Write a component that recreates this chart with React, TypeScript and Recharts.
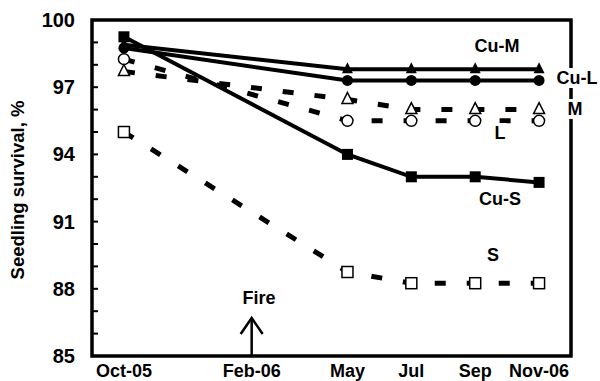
import React from 'react';
import { LineChart, Line, XAxis, YAxis, ReferenceArea, ReferenceDot } from 'recharts';

// months since Oct-05
const months = [0, 7, 9, 11, 13];
const cuM = [98.9, 97.8, 97.8, 97.8, 97.8];
const cuL = [98.75, 97.3, 97.3, 97.3, 97.3];
const cuS = [99.25, 94.0, 93.0, 93.0, 92.75];
const mVals = [97.7, 96.45, 96.0, 96.0, 96.0];
const lVals = [98.25, 95.5, 95.5, 95.5, 95.5];
const sVals = [95.0, 88.75, 88.25, 88.25, 88.25];

const xTicks = [0, 4, 7, 9, 11, 13];
const xLabels = ['Oct-05', 'Feb-06', 'May', 'Jul', 'Sep', 'Nov-06'];
const yTicks = [85, 86, 87, 88, 89, 90, 91, 92, 93, 94, 95, 96, 97, 98, 99, 100];
const yMajor = [85, 88, 91, 94, 97, 100];

// fire happened Feb-06
const fireMonth = 4;

const data = months.map((m, i) => ({
  m,
  cuM: cuM[i],
  cuL: cuL[i],
  cuS: cuS[i],
  M: mVals[i],
  L: lVals[i],
  S: sVals[i],
}));

const FONT = '"Liberation Sans", Arial, sans-serif';

const FilledSquare = (p: any) => (
  <rect key={p.index} x={p.cx - 5.5} y={p.cy - 5.5} width={11} height={11} fill="#000" />
);
const OpenSquare = (p: any) => (
  <rect key={p.index} x={p.cx - 5.5} y={p.cy - 5.5} width={11} height={11} fill="#fff" stroke="#000" strokeWidth={1.5} />
);
const FilledCircle = (p: any) => <circle key={p.index} cx={p.cx} cy={p.cy} r={5.5} fill="#000" />;
const OpenCircle = (p: any) => (
  <circle key={p.index} cx={p.cx} cy={p.cy} r={5.5} fill="#fff" stroke="#000" strokeWidth={1.5} />
);
const FilledTri = (p: any) => (
  <path key={p.index} d={`M${p.cx},${p.cy - 7} L${p.cx + 5.5},${p.cy + 4} L${p.cx - 5.5},${p.cy + 4} Z`} fill="#000" />
);
const OpenTri = (p: any) => (
  <path
    key={p.index}
    d={`M${p.cx},${p.cy - 7} L${p.cx + 5.5},${p.cy + 4} L${p.cx - 5.5},${p.cy + 4} Z`}
    fill="#fff"
    stroke="#000"
    strokeWidth={1.5}
  />
);

// arrow pointing up from the x axis
const FireArrow = (p: any) => {
  const { cx, cy } = p;
  return (
    <g stroke="#000" strokeWidth={2.5} fill="none">
      <line x1={cx} y1={cy} x2={cx} y2={cy - 38} />
      <polyline points={`${cx - 11},${cy - 22} ${cx},${cy - 38} ${cx + 11},${cy - 22}`} />
    </g>
  );
};

const YTick = (props: any) => {
  const { x, y, payload } = props;
  const major = yMajor.includes(payload.value);
  return (
    <g>
      <line x1={x} y1={y} x2={x + 6} y2={y} stroke="#000" strokeWidth={2} />
      {major && (
        <text x={x - 17} y={y + 7} textAnchor="end" fontFamily={FONT} fontWeight="bold" fontSize={20} fill="#000">
          {payload.value}
        </text>
      )}
    </g>
  );
};

const XTick = (props: any) => {
  const { x, y, payload } = props;
  const idx = xTicks.indexOf(payload.value);
  return (
    <text x={x} y={y + 21} textAnchor="middle" fontFamily={FONT} fontWeight="bold" fontSize={18} fill="#000">
      {xLabels[idx]}
    </text>
  );
};

const tag = (text: string, cx: number, cy: number) => (
  <div
    key={text}
    style={{
      position: 'absolute',
      left: cx,
      top: cy,
      transform: 'translate(-50%, -50%)',
      fontFamily: FONT,
      fontWeight: 'bold',
      fontSize: 18,
      lineHeight: '18px',
      background: '#fff',
      padding: '1px 1px',
      whiteSpace: 'nowrap',
    }}
  >
    {text}
  </div>
);

export default function App() {
  return (
    <div style={{ position: 'absolute', left: 0, top: 0, width: 600, height: 381, background: '#fff' }}>
      <LineChart width={600} height={381} data={data} margin={{ top: 20, right: 29, bottom: 0, left: 0 }}>
        <XAxis
          dataKey="m"
          type="number"
          domain={[-1, 14]}
          ticks={xTicks}
          tick={<XTick />}
          tickLine={false}
          axisLine={false}
          tickSize={0}
          tickMargin={0}
          height={25}
          interval={0}
        />
        <YAxis
          type="number"
          domain={[85, 100]}
          ticks={yTicks}
          tick={<YTick />}
          tickLine={false}
          axisLine={false}
          tickSize={0}
          tickMargin={0}
          width={92}
          interval={0}
        />
        <ReferenceArea x1={-1} x2={14} y1={85} y2={100} fill="none" stroke="#000" strokeWidth={3.5} />
        <ReferenceDot x={fireMonth} y={85} r={0} shape={FireArrow} />
        <Line dataKey="S" type="linear" stroke="#000" strokeWidth={5} strokeDasharray="11 21" dot={OpenSquare} isAnimationActive={false} />
        <Line dataKey="L" type="linear" stroke="#000" strokeWidth={5} strokeDasharray="11 21" dot={OpenCircle} isAnimationActive={false} />
        <Line dataKey="M" type="linear" stroke="#000" strokeWidth={5} strokeDasharray="11 21" dot={OpenTri} isAnimationActive={false} />
        <Line dataKey="cuS" type="linear" stroke="#000" strokeWidth={4} dot={FilledSquare} isAnimationActive={false} />
        <Line dataKey="cuL" type="linear" stroke="#000" strokeWidth={4} dot={FilledCircle} isAnimationActive={false} />
        <Line dataKey="cuM" type="linear" stroke="#000" strokeWidth={4} dot={FilledTri} isAnimationActive={false} />
      </LineChart>
      <div
        style={{
          position: 'absolute',
          left: 18,
          top: 190,
          transform: 'translate(-50%, -50%) rotate(-90deg)',
          fontFamily: FONT,
          fontWeight: 'bold',
          fontSize: 18.5,
          whiteSpace: 'nowrap',
        }}
      >
        Seedling survival, %
      </div>
      {tag('Cu-M', 497, 46)}
      {tag('Cu-L', 577, 78)}
      {tag('M', 575, 109)}
      {tag('L', 500, 133)}
      {tag('Cu-S', 500, 199)}
      {tag('S', 493, 255)}
      {tag('Fire', 259, 298)}
    </div>
  );
}
